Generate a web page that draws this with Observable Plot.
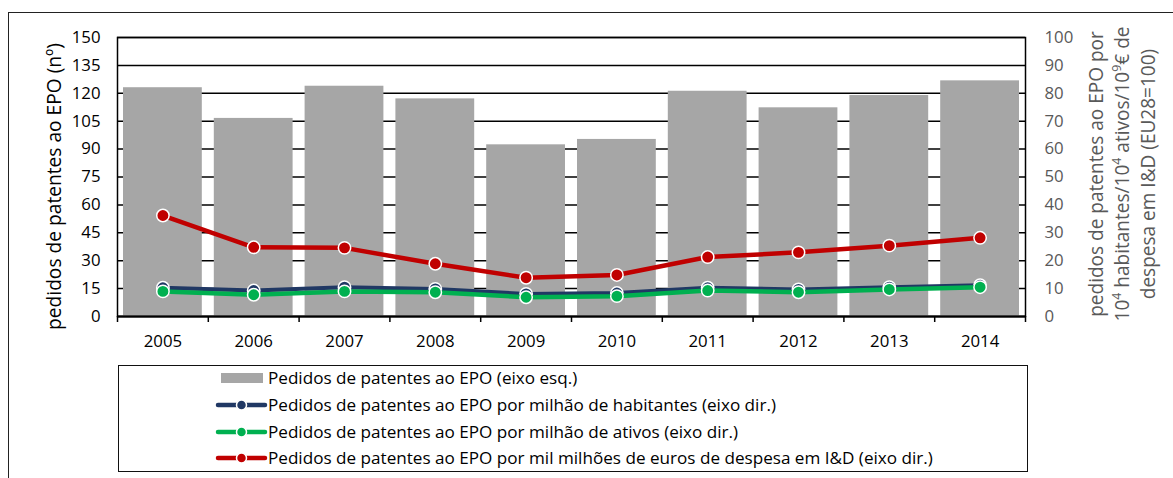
<!DOCTYPE html>
<html>
<head>
<meta charset="utf-8">
<script src="https://cdn.jsdelivr.net/npm/d3@7"></script>
<script src="https://cdn.jsdelivr.net/npm/@observablehq/plot@0.6"></script>
<style>
  html, body { margin: 0; padding: 0; background: #fff; }
  #root { position: relative; width: 1173px; height: 478px; overflow: hidden; background: #fff; font-family: "Open Sans", sans-serif; }
  #outer { position: absolute; left: 8px; top: 12px; width: 1200px; height: 500px; border: 1.5px solid #222; box-sizing: border-box; }
  #chart { position: absolute; left: 0; top: 0; }
  #legend { position: absolute; left: 118px; top: 365px; width: 910px; height: 107px; border: 1.5px solid #111; box-sizing: border-box; }
  .lg-row { position: absolute; left: 0; height: 0; }
  .lg-text { position: absolute; left: 268px; top: -12px; font-size: 15px; line-height: 24px; white-space: nowrap; color: #000; }
</style>
</head>
<body>
<div id="root">
  <div id="outer"></div>
  <div id="chart"></div>
  <div id="legend"></div>
</div>
<script>
// ---- data ----
const years = [2005, 2006, 2007, 2008, 2009, 2010, 2011, 2012, 2013, 2014];
const pedidosEPO = [123.0, 106.5, 123.8, 117.0, 92.3, 95.2, 121.1, 112.2, 118.8, 126.7];          // eixo esq.
const porMilhaoHabitantes = [10.3, 9.3, 10.5, 9.9, 8.1, 8.4, 10.3, 9.7, 10.5, 11.2];               // eixo dir.
const porMilhaoAtivos = [9.0, 7.8, 9.0, 8.7, 6.9, 7.3, 9.3, 8.7, 9.7, 10.5];                       // eixo dir.
const porMilMilhoesID = [36.2, 24.8, 24.6, 18.9, 13.9, 14.9, 21.3, 23.0, 25.4, 28.2];              // eixo dir.
const leftTicks = [0, 15, 30, 45, 60, 75, 90, 105, 120, 135, 150];
const rightTicks = [0, 10, 20, 30, 40, 50, 60, 70, 80, 90, 100];

const seriesNames = [
  "Pedidos de patentes ao EPO (eixo esq.)",
  "Pedidos de patentes ao EPO por milhão de habitantes (eixo dir.)",
  "Pedidos de patentes ao EPO por milhão de ativos (eixo dir.)",
  "Pedidos de patentes ao EPO por mil milhões de euros de despesa em I&D (eixo dir.)"
];
const seriesColors = ["#a6a6a6", "#203864", "#00b050", "#c00000"];

const leftTitle = "pedidos de patentes ao EPO (nº)";

// ---- derived ----
const K = 150 / 100; // right axis -> left axis units
const bars = years.map((y, i) => ({year: y, value: pedidosEPO[i]}));
const mk = arr => years.map((y, i) => ({year: y, v: arr[i]}));
const lines = [
  {data: mk(porMilhaoHabitantes), color: seriesColors[1], w: 4},
  {data: mk(porMilhaoAtivos), color: seriesColors[2], w: 4.5},
  {data: mk(porMilMilhoesID), color: seriesColors[3], w: 4.5}
];
const boundaries = [...years.map(y => y - 0.5), years[years.length - 1] + 0.5];

const lineMarks = lines.flatMap(s => [
  Plot.lineY(s.data, {x: "year", y: d => d.v * K, stroke: s.color, strokeWidth: s.w}),
  Plot.dot(s.data, {x: "year", y: d => d.v * K, r: 6.2, fill: s.color, stroke: "white", strokeWidth: 1.5})
]);

const chart = Plot.plot({
  width: 1173,
  height: 360,
  marginLeft: 117,
  marginRight: 148,
  marginTop: 37,
  marginBottom: 44,
  style: {fontFamily: "'Open Sans', sans-serif", fontSize: "16.8px", color: "#000", background: "transparent", overflow: "visible"},
  x: {type: "linear", domain: [boundaries[0], boundaries[boundaries.length - 1]]},
  y: {domain: [0, 150]},
  marks: [
    Plot.gridY(leftTicks, {stroke: "#000", strokeOpacity: 1, strokeWidth: 1.5}),
    Plot.rectY(bars, {x1: d => d.year - 0.5, x2: d => d.year + 0.5, y: "value", fill: seriesColors[0], insetLeft: 6, insetRight: 6}),
    Plot.frame({stroke: "#000", strokeWidth: 1.5}),
    Plot.ruleY([0], {stroke: "#000", strokeWidth: 2}),
    Plot.axisX(boundaries, {tickSize: 6, tickFormat: () => "", stroke: "#000", strokeWidth: 1.5, label: null}),
    Plot.axisX(years, {tickSize: 0, tickPadding: 19, tickFormat: d => String(d), label: null, fill: "#000"}),
    Plot.axisY(leftTicks, {anchor: "left", tickSize: 0, tickPadding: 17, label: null, fill: "#000"}),
    Plot.axisY(rightTicks.map(v => v * K), {anchor: "right", tickSize: 0, tickPadding: 19, tickFormat: d => String(Math.round(d / K)), label: null, fill: "#595959"}),
    ...lineMarks
  ]
});
document.getElementById("chart").appendChild(chart);

// fit an SVG text element's font size to a target length
function fitSvg(node, base, target) {
  node.style.fontSize = base + "px";
  const len = node.getComputedTextLength();
  if (len > 0) node.style.fontSize = (base * target / len) + "px";
}

// axis titles
const svg = d3.select(chart);
const lt = svg.append("text")
  .attr("transform", "translate(61,186.5) rotate(-90)")
  .attr("text-anchor", "middle")
  .attr("fill", "#000")
  .text(leftTitle);
fitSvg(lt.node(), 16.5, 287);

const rt = svg.append("g").attr("fill", "#595959");
const rl = [
  [{t: "pedidos de patentes ao EPO por"}],
  [{t: "10"}, {t: "4", sup: true}, {t: " habitantes/10"}, {t: "4", sup: true}, {t: " ativos/10"}, {t: "9", sup: true}, {t: "€ de"}],
  [{t: "despesa em I&D (EU28=100)"}]
];
const rx = [1102.5, 1128.5, 1155];
const rTarget = [283, 298, 253];
const rNodes = rl.map((parts, i) => {
  const t = rt.append("text")
    .attr("transform", `translate(${rx[i]},174) rotate(-90)`)
    .attr("text-anchor", "middle");
  parts.forEach(p => {
    const s = t.append("tspan").text(p.t);
    if (p.sup) s.attr("baseline-shift", "super").style("font-size", "0.65em");
  });
  return t.node();
});
// use one common size for the three lines (fitted on lines 1 and 3)
rNodes.forEach(n => n.style.fontSize = "16.5px");
const f1 = 16.5 * rTarget[0] / rNodes[0].getComputedTextLength();
const f3 = 16.5 * rTarget[2] / rNodes[2].getComputedTextLength();
const rf = (f1 + f3) / 2;
rNodes.forEach(n => n.style.fontSize = rf + "px");

// legend
const root = document.getElementById("root");
const rowY = [378, 405, 431.7, 458.3];
const texts = [];
seriesNames.forEach((name, i) => {
  const row = document.createElement("div");
  row.className = "lg-row";
  row.style.top = rowY[i] + "px";
  const ns = "http://www.w3.org/2000/svg";
  const sv = document.createElementNS(ns, "svg");
  sv.setAttribute("width", "60");
  sv.setAttribute("height", "20");
  sv.style.position = "absolute";
  sv.style.left = "212px";
  sv.style.top = "-10px";
  if (i === 0) {
    const r = document.createElementNS(ns, "rect");
    r.setAttribute("x", 9); r.setAttribute("y", 5); r.setAttribute("width", 42); r.setAttribute("height", 10);
    r.setAttribute("fill", seriesColors[0]);
    sv.appendChild(r);
  } else {
    const l = document.createElementNS(ns, "line");
    l.setAttribute("x1", 6); l.setAttribute("x2", 53); l.setAttribute("y1", 10); l.setAttribute("y2", 10);
    l.setAttribute("stroke", seriesColors[i]); l.setAttribute("stroke-width", 4.5); l.setAttribute("stroke-linecap", "round");
    sv.appendChild(l);
    const c = document.createElementNS(ns, "circle");
    c.setAttribute("cx", 29.5); c.setAttribute("cy", 10); c.setAttribute("r", 5);
    c.setAttribute("fill", seriesColors[i]); c.setAttribute("stroke", "white"); c.setAttribute("stroke-width", 1.5);
    sv.appendChild(c);
  }
  row.appendChild(sv);
  const tx = document.createElement("div");
  tx.className = "lg-text";
  tx.textContent = name;
  row.appendChild(tx);
  root.appendChild(row);
  texts.push(tx);
});
const w4 = texts[3].getBoundingClientRect().width;
const lf = 15 * 665 / w4;
texts.forEach(t => t.style.fontSize = lf + "px");
</script>
</body>
</html>
